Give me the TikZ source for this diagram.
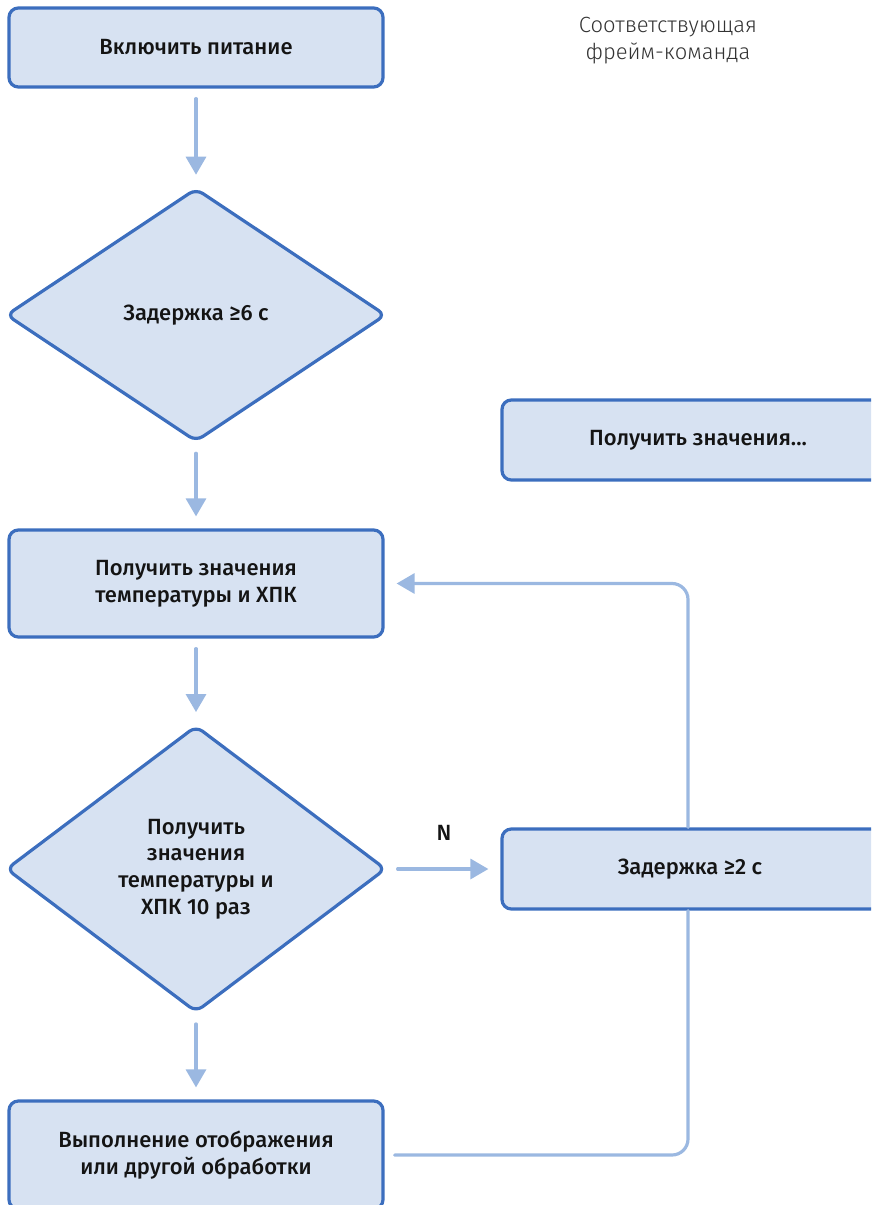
\documentclass[tikz,border=0pt]{standalone}
\usepackage{fontspec}
\setmainfont{Fira Sans}[BoldFont={Fira Sans Medium}]
\newfontfamily\lightfont{Fira Sans Light}
\usetikzlibrary{arrows.meta,shapes.geometric,positioning}
\definecolor{boxline}{HTML}{3C6EBE}
\definecolor{boxfill}{HTML}{D7E2F2}
\definecolor{arrowline}{HTML}{9BB8E1}

\begin{document}
\begin{tikzpicture}[x=0.75pt, y=-0.75pt,
  every node/.style={font=\fontsize{16.5}{20}\selectfont\bfseries, text=black!92},
  box/.style={draw=boxline, fill=boxfill, line width=2.4pt, rounded corners=7pt,
    minimum width=280.5pt, align=center},
  decision/.style={diamond, draw=boxline, fill=boxfill, line width=2.4pt, rounded corners=6pt,
    minimum width=285pt, align=center, inner sep=0pt},
  link/.style={draw=arrowline, line width=2.4pt, line cap=round},
  arr/.style={link, -{Triangle[width=15pt,length=13.5pt]}, shorten <=7.5pt, shorten >=9pt}]
  \clip (0,0) rectangle (871,1205);

  % main column
  \node[box, minimum height=59.25pt] (power) at (196,47.5) {Включить питание};
  \node[decision, minimum height=190pt, aspect=1.5] (wait6) at (196,315) {Задержка ≥6 с};
  \node[box, minimum height=80.25pt] (read) at (196,583.5) {Получить значения\\температуры и ХПК};
  \node[decision, minimum height=215pt, aspect=1.3] (check) at (196,869)
    {Получить\\значения\\температуры и\\ХПК 10 раз};
  \node[box, minimum height=81pt] (output) at (196,1155) {Выполнение отображения\\или другой обработки};

  % right column
  \node[font=\lightfont\fontsize{16.5}{20}\selectfont, text=black!80, align=center] (caption)
    at (668,40.5) {Соответствующая\\фрейм-команда};
  \node[box, minimum width=315pt, minimum height=60pt] (getcmd) at (712,440) {\hspace*{-21pt}Получить значения...};
  \node[box, minimum width=315pt, minimum height=60pt] (wait2) at (712,869) {\hspace*{-33pt}Задержка ≥2 с};
  \coordinate (loopx) at (688,0);

  % connectors
  \draw[arr] (power) -- (wait6);
  \draw[arr] (wait6) -- (read);
  \draw[arr] (read) -- (check);
  \draw[arr] (check) -- (output);
  \draw[arr] (check) -- (wait2);
  \node (nlabel) at (444,833) {N};
  \draw[arr, rounded corners=12pt, shorten <=0pt] (wait2.north -| loopx) |- (read.east);
  \draw[link, rounded corners=12pt, shorten <=7.5pt] (output.east) -| (wait2.south -| loopx);
\end{tikzpicture}
\end{document}
